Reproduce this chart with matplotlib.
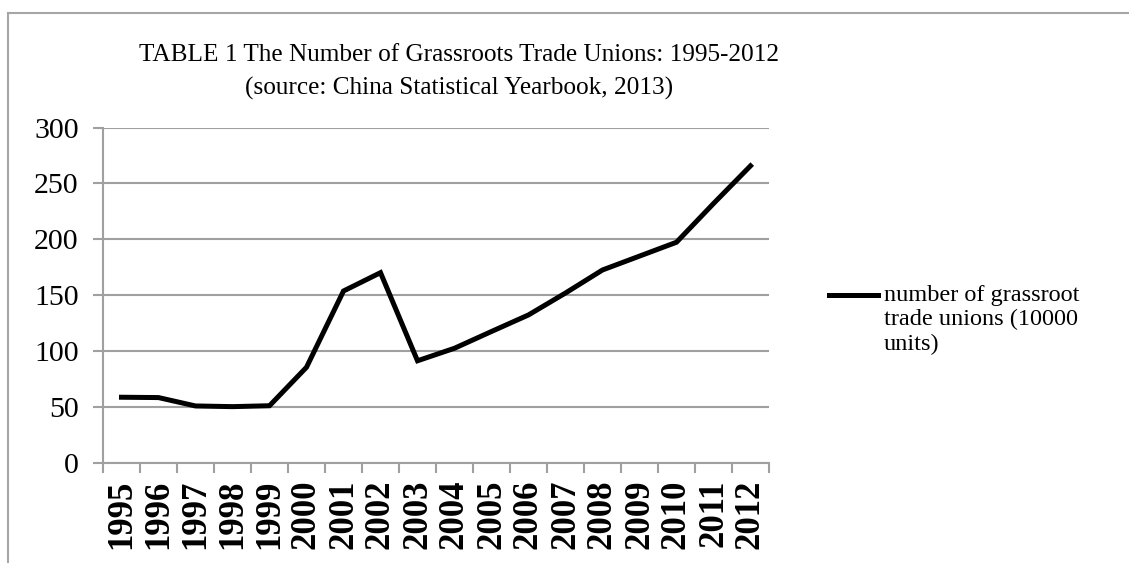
import matplotlib
matplotlib.use('Agg')
import matplotlib.pyplot as plt
from matplotlib.lines import Line2D
import numpy as np

# ---------- data ----------
years = ['1995', '1996', '1997', '1998', '1999', '2000', '2001', '2002', '2003',
         '2004', '2005', '2006', '2007', '2008', '2009', '2010', '2011', '2012']
unions = [58.8, 58.5, 51.0, 50.4, 51.2, 85.6, 153.8, 170.2, 91.4,
          102.6, 117.6, 132.4, 152.0, 172.6, 185.0, 197.4, 232.0, 265.7]
series_label = 'number of grassroot\ntrade unions (10000\nunits)'
title = ('TABLE 1 The Number of Grassroots Trade Unions: 1995-2012\n'
         '(source: China Statistical Yearbook, 2013)')

plt.rcParams['font.family'] = ['Liberation Serif', 'DejaVu Serif']

W, H = 1129, 563
fig = plt.figure(figsize=(W / 100, H / 100), dpi=100)
ax = fig.add_axes([103 / W, 1 - 463 / H, (769 - 103) / W, (463 - 127.5) / H])

grid_c = '#a0a0a0'
x = np.arange(len(years))
ax.plot(x, unions, color='black', linewidth=3.6, solid_joinstyle='miter', zorder=3)

ax.set_xlim(-0.5, len(years) - 0.5)
ax.set_ylim(0, 300)
ax.set_yticks(np.arange(0, 301, 50))
ax.yaxis.grid(True, color=grid_c, linewidth=1.5, zorder=0)

# category boundaries get the tick marks, labels sit at the centres
ax.set_xticks(np.arange(-0.5, len(years), 1))
ax.set_xticklabels([])
ax.set_xticks(x, minor=True)
ax.set_xticklabels(years, minor=True, rotation=90, fontsize=25, fontweight='bold')
ax.tick_params(axis='x', which='major', length=7, width=1.5, color=grid_c)
ax.tick_params(axis='x', which='minor', length=0, pad=12)
ax.tick_params(axis='y', length=7, width=1.5, color=grid_c, labelsize=21.5, pad=10.5)

for s in ['top', 'right']:
    ax.spines[s].set_visible(False)
for s in ['left', 'bottom']:
    ax.spines[s].set_color(grid_c)
    ax.spines[s].set_linewidth(1.5)

fig.text(459 / W, 1 - 72 / H, title, ha='center', va='center', fontsize=18.2,
         linespacing=1.6)

# legend (handle aligned with the first text line, as in the reference)
ly = 1 - 295 / H
fig.add_artist(Line2D([829 / W, 878 / W], [ly, ly], color='black', linewidth=3.6))
fig.text(884 / W, 1 - 285 / H, series_label, ha='left', va='top', fontsize=17.5,
         linespacing=1.2)

# chart-area border (cropped on the right and bottom)
fig.add_artist(Line2D([8 / W, 1], [1 - 12.5 / H, 1 - 12.5 / H], color='#a6a6a6', linewidth=1.5))
fig.add_artist(Line2D([8 / W, 8 / W], [0, 1 - 12.5 / H], color='#a6a6a6', linewidth=1.5))

fig.savefig('out.png', dpi=100)
